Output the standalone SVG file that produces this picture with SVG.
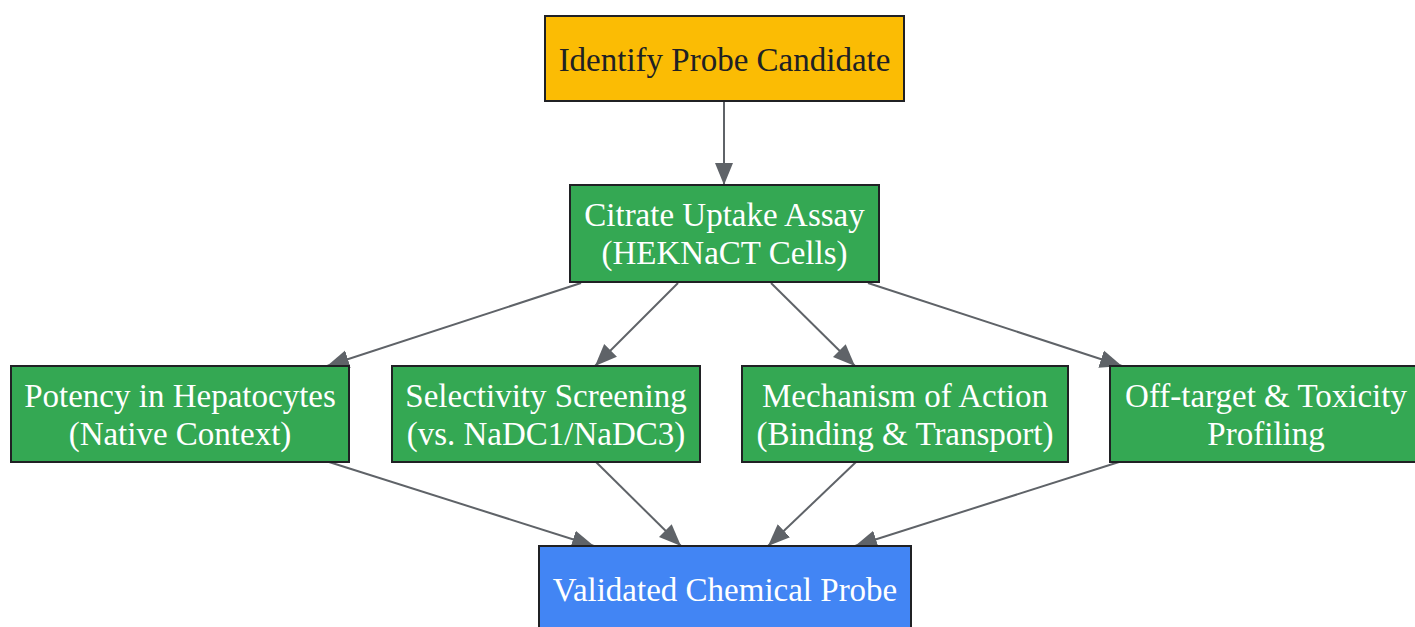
<svg xmlns="http://www.w3.org/2000/svg" width="1415" height="627" viewBox="0 0 1415 627">
<style>
.box{stroke:#202124;stroke-width:2}
.t{font-family:"Liberation Serif","Times New Roman",serif;font-size:33px;text-anchor:middle;fill:#ffffff}
.dark{fill:#202124}
.e{stroke:#5f6368;stroke-width:2;fill:none;marker-end:url(#ah)}
</style>
<defs>
<marker id="ah" markerUnits="userSpaceOnUse" markerWidth="24" markerHeight="20" refX="22" refY="9" orient="auto" viewBox="0 0 24 18">
<path d="M0,0 L22,9 L0,18 z" fill="#5f6368"/>
</marker>
</defs>
<rect width="1415" height="627" fill="#ffffff"/>
<g id="connectors">
<line class="e" x1="724" y1="101" x2="724" y2="185"/>
<line class="e" x1="581" y1="283" x2="327" y2="366"/>
<line class="e" x1="678" y1="283" x2="595" y2="366"/>
<line class="e" x1="771" y1="283" x2="855" y2="366"/>
<line class="e" x1="868" y1="283" x2="1122" y2="366"/>
<line class="e" x1="329" y1="462" x2="594" y2="546"/>
<line class="e" x1="596" y1="462" x2="681" y2="546"/>
<line class="e" x1="856" y1="462" x2="768" y2="546"/>
<line class="e" x1="1119" y1="462" x2="855" y2="546"/>
</g>
<g id="identify">
<rect class="box" x="545" y="16" width="359" height="85" fill="#fbbc04"/>
<text class="t dark" x="724.5" y="71">Identify Probe Candidate</text>
</g>
<g id="citrate">
<rect class="box" x="570" y="185" width="309" height="97" fill="#34a853"/>
<text class="t" x="724.5" y="226">Citrate Uptake Assay</text>
<text class="t" x="724.5" y="264">(HEKNaCT Cells)</text>
</g>
<g id="potency">
<rect class="box" x="11" y="366" width="338" height="96" fill="#34a853"/>
<text class="t" x="180" y="407">Potency in Hepatocytes</text>
<text class="t" x="180" y="445">(Native Context)</text>
</g>
<g id="selectivity">
<rect class="box" x="392" y="366" width="308" height="96" fill="#34a853"/>
<text class="t" x="546" y="407">Selectivity Screening</text>
<text class="t" x="546" y="445">(vs. NaDC1/NaDC3)</text>
</g>
<g id="mechanism">
<rect class="box" x="742" y="366" width="326" height="96" fill="#34a853"/>
<text class="t" x="905" y="407">Mechanism of Action</text>
<text class="t" x="905" y="445">(Binding &amp; Transport)</text>
</g>
<g id="offtarget">
<rect class="box" x="1110" y="366" width="312" height="96" fill="#34a853"/>
<text class="t" x="1266" y="407">Off-target &amp; Toxicity</text>
<text class="t" x="1266" y="445">Profiling</text>
</g>
<g id="validated">
<rect class="box" x="539" y="546" width="372" height="86" fill="#4285f4"/>
<text class="t" x="725" y="601">Validated Chemical Probe</text>
</g>
</svg>
